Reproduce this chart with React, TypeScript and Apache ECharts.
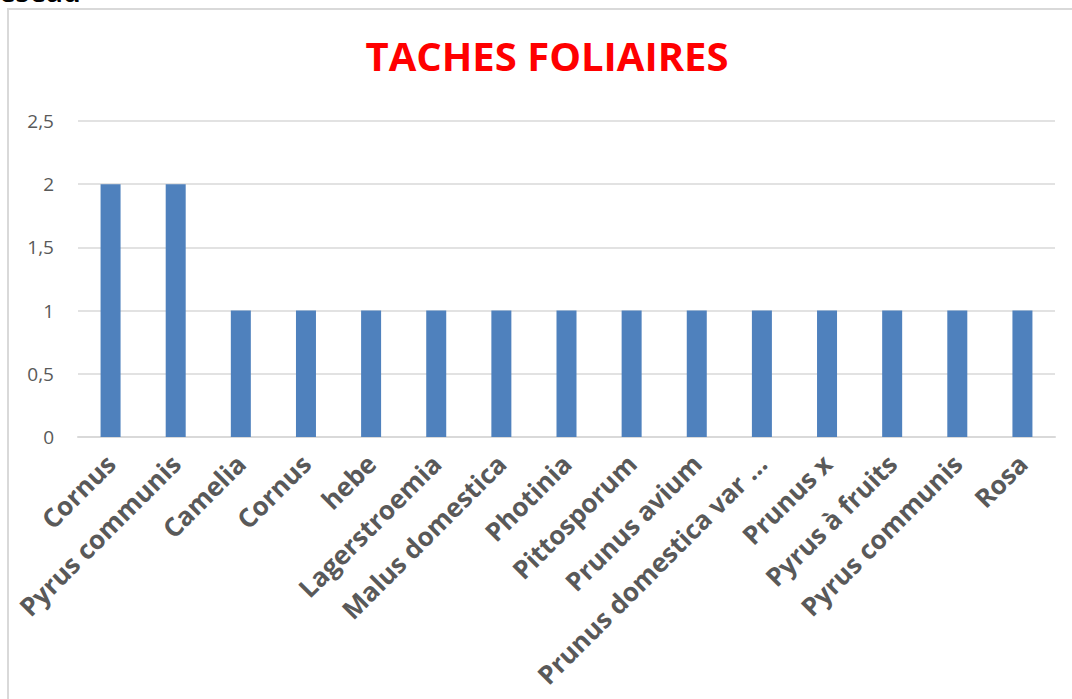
import React, { useEffect, useRef } from "react";
import * as echarts from "echarts";

const categories = [
  "Cornus",
  "Pyrus communis",
  "Camelia",
  "Cornus",
  "hebe",
  "Lagerstroemia",
  "Malus domestica",
  "Photinia",
  "Pittosporum",
  "Prunus avium",
  "Prunus domestica var ...",
  "Prunus x",
  "Pyrus à fruits",
  "Pyrus communis",
  "Rosa",
];
const values = [2, 2, 1, 1, 1, 1, 1, 1, 1, 1, 1, 1, 1, 1, 1];
const yTicks = [0, 0.5, 1, 1.5, 2, 2.5];

export default function App() {
  const ref = useRef<HTMLDivElement>(null);
  useEffect(() => {
    document.body.style.margin = "0";
    const chart = echarts.init(ref.current!, null, { renderer: "svg" });
    chart.setOption({
      animation: false,
      backgroundColor: "#ffffff",
      title: {
        text: "TACHES FOLIAIRES",
        left: 542,
        textAlign: "center",
        top: 30,
        textStyle: {
          fontFamily: "Open Sans",
          fontWeight: "bold",
          fontSize: 40,
          color: "#ff0000",
        },
      },
      graphic: [
        {
          type: "rect",
          shape: { x: 8, y: 9, width: 1100, height: 720 },
          style: { fill: "none", stroke: "#d9d9d9", lineWidth: 2 },
          silent: true,
          z: -1,
        },
        {
          type: "text",
          x: -1,
          y: 5,
          style: {
            text: "esead",
            fontFamily: "Open Sans",
            fontWeight: "bold",
            fontSize: 28,
            fill: "#000000",
            verticalAlign: "bottom",
          },
        },
      ],
      grid: {
        left: 78,
        right: 17,
        top: 121,
        bottom: 262,
        containLabel: false,
        outerBoundsMode: "none",
      },
      xAxis: {
        type: "category",
        data: categories,
        axisTick: { show: false },
        axisLine: { lineStyle: { color: "#d9d9d9", width: 2 } },
        axisLabel: {
          interval: 0,
          rotate: 45,
          margin: 22,
          fontFamily: "Open Sans",
          fontWeight: "bold",
          fontSize: 26,
          color: "#595959",
        },
      },
      yAxis: {
        type: "value",
        min: 0,
        max: 2.5,
        interval: 0.5,
        axisLine: { show: false },
        axisTick: { show: false },
        splitLine: { lineStyle: { color: "#d9d9d9", width: 1.5 } },
        axisLabel: {
          margin: 24,
          fontFamily: "Open Sans",
          fontSize: 19,
          color: "#595959",
          formatter: (v: number) => String(v).replace(".", ","),
        },
      },
      series: [
        {
          type: "bar",
          data: values,
          barWidth: 20,
          itemStyle: { color: "#4f81bd" },
        },
      ],
    });
    return () => chart.dispose();
  }, []);
  return <div ref={ref} style={{ width: 1072, height: 699 }} />;
}
